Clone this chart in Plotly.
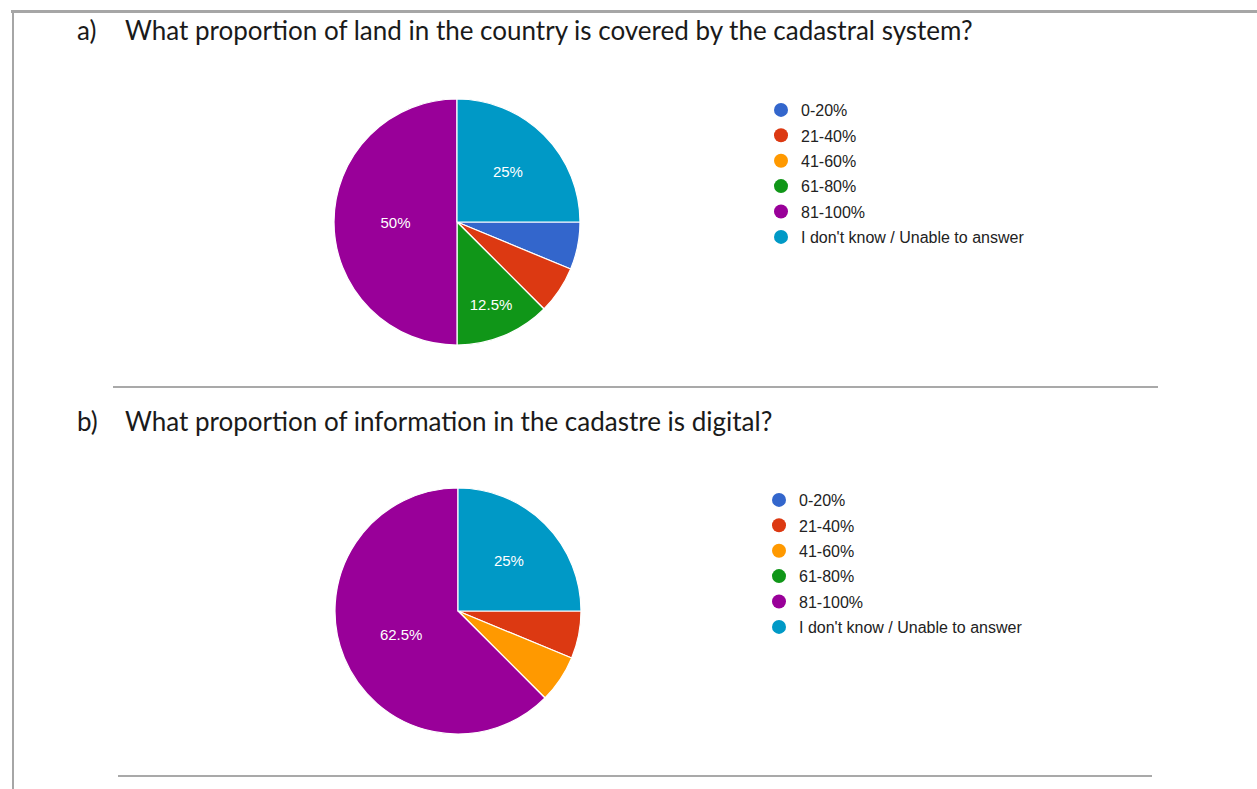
import plotly.graph_objects as go

W, H = 1257, 789

categories = ["0-20%", "21-40%", "41-60%", "61-80%", "81-100%", "I don't know / Unable to answer"]
colors = ["#3366cc", "#dc3912", "#ff9900", "#109618", "#990099", "#0099c6"]
values_a = [6.25, 6.25, 0, 12.5, 50, 25]
values_b = [0, 6.25, 6.25, 0, 62.5, 25]
title_a = "What proportion of land in the country is covered by the cadastral system?"
title_b = "What proportion of information in the cadastre is digital?"


def px(x):
    return x / W


def py(y):
    return 1 - y / H


def labels_for(vals):
    tot = sum(vals)
    out = []
    for v in vals:
        p = 100 * v / tot
        out.append(f"{p:g}%" if p >= 10 else "")
    return out


fig = go.Figure()

R = 123
pies = [(values_a, 457, 222), (values_b, 458, 611)]
for vals, cx, cy in pies:
    fig.add_trace(go.Pie(
        labels=categories, values=vals, sort=False, direction="clockwise", rotation=90,
        marker=dict(colors=colors, line=dict(color="white", width=1.2)),
        text=labels_for(vals), textinfo="text", textposition="inside",
        insidetextorientation="horizontal",
        textfont=dict(family="Arial, Liberation Sans", size=15, color="white"),
        domain=dict(x=[px(cx - R), px(cx + R)], y=[py(cy + R), py(cy - R)]),
        showlegend=False, hoverinfo="label+percent",
    ))

for leg in ["legend", "legend2"]:
    for i, (c, col) in enumerate(zip(categories, colors)):
        fig.add_trace(go.Scatter(
            x=[None], y=[None], mode="markers", name=c, legend=leg,
            legendgroup=f"{leg}{i}",
            marker=dict(symbol="circle", size=14, color=col),
        ))

legend_common = dict(
    xanchor="left", yanchor="top", bgcolor="rgba(0,0,0,0)",
    font=dict(family="Arial, Liberation Sans", size=16, color="#222222"),
    tracegroupgap=1.6, itemclick=False, itemdoubleclick=False,
)
fig.update_layout(
    legend=dict(x=px(761), y=py(93), **legend_common),
    legend2=dict(x=px(759), y=py(483), **legend_common),
)

title_font = dict(family="Lato, Open Sans", size=26, color="#1a1a1a")
annotations = [
    dict(text="a)", x=px(75), y=py(30)),
    dict(text=title_a, x=px(123), y=py(30)),
    dict(text="b)", x=px(75), y=py(421)),
    dict(text=title_b, x=px(123), y=py(421)),
]
for a in annotations:
    fig.add_annotation(xref="paper", yref="paper", xanchor="left", yanchor="middle",
                       showarrow=False, font=title_font, **a)

shapes = [
    dict(x0=px(11), x1=px(W), y0=py(11.5), y1=py(11.5), w=3, c="#a6a6a6"),
    dict(x0=px(13), x1=px(13), y0=py(10), y1=py(H), w=2, c="#a6a6a6"),
    dict(x0=px(113), x1=px(1158), y0=py(387), y1=py(387), w=1.5, c="#8c8c8c"),
    dict(x0=px(118), x1=px(1152), y0=py(776), y1=py(776), w=1.5, c="#8c8c8c"),
]
for s in shapes:
    fig.add_shape(type="line", xref="paper", yref="paper", x0=s["x0"], x1=s["x1"],
                  y0=s["y0"], y1=s["y1"], line=dict(color=s["c"], width=s["w"]))

fig.update_layout(
    width=W, height=H, margin=dict(l=0, r=0, t=0, b=0),
    paper_bgcolor="white", plot_bgcolor="white",
    xaxis=dict(visible=False), yaxis=dict(visible=False),
)

fig.write_html("out.html")
